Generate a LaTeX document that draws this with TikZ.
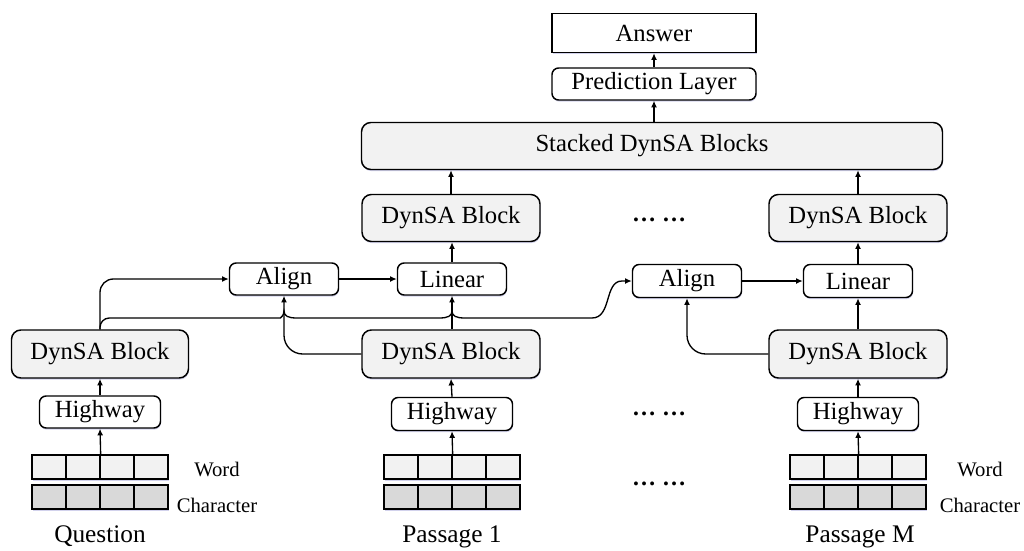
\documentclass[tikz,border=0pt]{standalone}
\usepackage{fontspec}
\setmainfont{Liberation Serif}
\usetikzlibrary{arrows.meta,shadows}
\begin{document}
\begin{tikzpicture}[x=0.75pt,y=-0.75pt,
  every node/.style={font=\fontsize{18.5}{21}\selectfont, inner sep=0pt},
  sz/.style 2 args={minimum width=#1*0.75pt, minimum height=#2*0.75pt},
  shd/.style={drop shadow={shadow xshift=0.4pt, shadow yshift=-1.2pt, fill=blue!40!gray, opacity=0.25}},
  wbox/.style={draw, line width=1.1pt, fill=white, rounded corners=5pt, shd},
  gbox/.style={draw, line width=1.1pt, fill=gray!10, rounded corners=7pt, shd},
  sbox/.style={draw, line width=1.1pt, fill=white, shd},
  cellw/.style={draw, line width=1pt, fill=gray!10, sz={34}{24}, shd},
  cellc/.style={draw, line width=1pt, fill=gray!30, sz={34}{24}, shd},
  lbl/.style={font=\fontsize{15.5}{18}\selectfont},
  caption/.style={font=\fontsize{19}{22}\selectfont},
  dots/.style={font=\fontsize{18}{20}\selectfont\bfseries, anchor=base},
  arr/.style={-{Latex[length=5pt,width=4.5pt]}, line width=1pt},
]
\useasboundingbox (0,0) rectangle (1024,550);

% top
\node[sbox, sz={204}{39}] (ans) at (654,33) {Answer};
\node[wbox, sz={204}{32}] (pred) at (654,84) {Prediction Layer};
\node[gbox, sz={581}{47}] (st) at (652,146) {Stacked DynSA Blocks};

% upper DynSA blocks
\node[gbox, sz={178}{47}] (dt1) at (451,218) {DynSA Block};
\node[gbox, sz={178}{47}] (dt2) at (858,218) {DynSA Block};

% Align / Linear
\node[wbox, sz={109}{32}] (al1) at (284,279) {Align};
\node[wbox, sz={109}{32}] (li1) at (452,279) {Linear};
\node[wbox, sz={109}{33}] (al2) at (687,281) {Align};
\node[wbox, sz={109}{33}] (li2) at (858,281) {Linear};

% lower DynSA blocks
\node[gbox, sz={177}{48}] (dq) at (100,354) {DynSA Block};
\node[gbox, sz={178}{48}] (dp1) at (451,354) {DynSA Block};
\node[gbox, sz={178}{48}] (dpm) at (858,354) {DynSA Block};

% Highways
\node[wbox, sz={121}{32}] (hq) at (100,412) {Highway};
\node[wbox, sz={121}{33}] (hp1) at (452,414) {Highway};
\node[wbox, sz={121}{33}] (hpm) at (858,414) {Highway};

% embedding cells
\foreach \g/\cx in {q/100, p/452, m/858}{
  \foreach \i in {1,...,4}{
    \node[cellw] (\g-w\i) at ({\cx-85+34*\i},467) {};
    \node[cellc] (\g-c\i) at ({\cx-85+34*\i},497) {};
  }
}

% labels
\node[lbl] (wq) at (217,469) {Word};
\node[lbl] (cq) at (217,505) {Character};
\node[lbl] (wm) at (980,469) {Word};
\node[lbl] (cm) at (980,505) {Character};
\node[caption] (lq) at (100,536) {Question};
\node[caption] (lp) at (452,537) {Passage 1};
\node[caption] (lm) at (860,537) {Passage M};

% dots
\node[dots] (d1) at (659,221) {\dots\ \dots};
\node[dots] (d2) at (659,415) {\dots\ \dots};
\node[dots] (d3) at (659,485) {\dots\ \dots};

% connectors: embeddings -> highway -> DynSA
\draw[arr] (q-w2.north east) -- (hq.south);
\draw[arr] (p-w2.north east) -- (hp1.south);
\draw[arr] (m-w2.north east) -- (hpm.south);
\draw[arr] (hq.north) -- (dq.south);
\draw[arr] (hp1.north) -- (dp1.south);
\draw[arr] (hpm.north) -- (dpm.south);

% question to first align
\draw[arr, rounded corners=10pt] (dq.north) |- (al1.west);
% question to second align with jumps
\draw[arr] (dq.north) [rounded corners=7pt] -- (100,318) -- (271,318) [sharp corners]
  .. controls (280,318) and (284,316) .. (284,311)
  .. controls (284,316) and (288,318) .. (297,318) -- (439,318)
  .. controls (448,318) and (452,316) .. (452,311)
  .. controls (452,316) and (456,318) .. (465,318) -- (592,318)
  .. controls (612,318) and (604,281) .. (622,281) -- (al2.west);

% passage blocks to align
\draw[arr, rounded corners=14pt] (dp1.west) -| (al1.south);
\draw[arr, rounded corners=14pt] (dpm.west) -| (al2.south);
\draw[arr] (dp1.north -| li1.south) -- (li1.south);
\draw[arr] (dpm.north) -- (li2.south);

\draw[arr] (al1.east) -- (li1.west);
\draw[arr] (al2.east) -- (li2.west);
\draw[arr] (li1.north) -- (li1.north |- dt1.south);
\draw[arr] (li2.north) -- (dt2.south);
\draw[arr] (dt1.north) -- (dt1.north |- st.south);
\draw[arr] (dt2.north) -- (dt2.north |- st.south);
\draw[arr] (st.north -| pred.south) -- (pred.south);
\draw[arr] (pred.north) -- (ans.south);
\end{tikzpicture}
\end{document}
